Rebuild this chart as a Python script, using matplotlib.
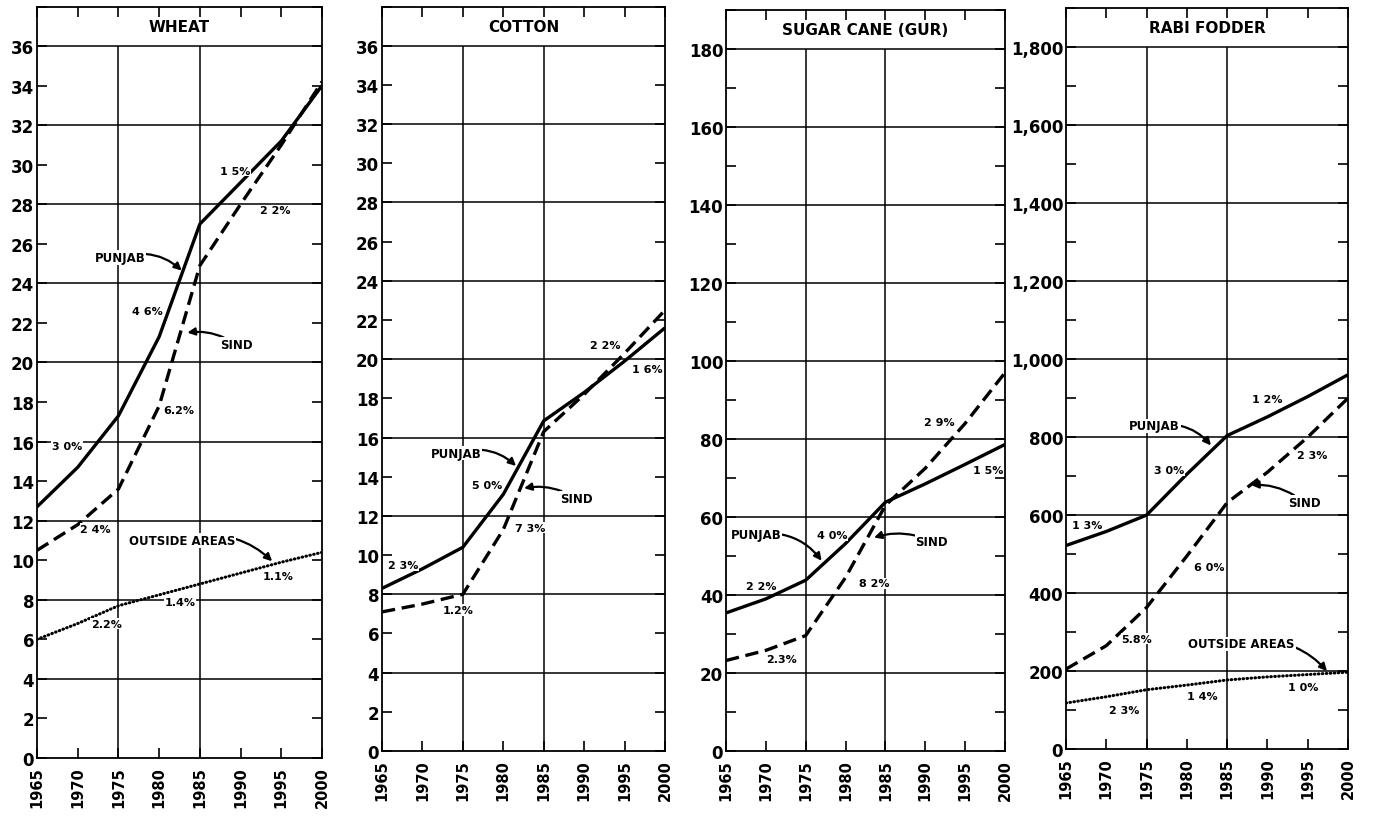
import matplotlib
matplotlib.use("Agg")
import matplotlib.pyplot as plt
from matplotlib.ticker import FuncFormatter, MultipleLocator
from matplotlib.transforms import blended_transform_factory

plt.rcParams['font.family'] = ['DejaVu Sans']
plt.rcParams['font.weight'] = 'bold'

years = [1965, 1970, 1975, 1980, 1985, 1990, 1995, 2000]

# projected production by region
wheat_punjab = [12.7, 14.7, 17.3, 21.3, 27.0, 29.1, 31.2, 34.0]
wheat_sind = [10.5, 11.8, 13.6, 17.8, 24.9, 28.0, 31.0, 34.2]
wheat_outside = [6.0, 6.8, 7.7, 8.25, 8.8, 9.35, 9.9, 10.4]

cotton_punjab = [8.3, 9.3, 10.4, 13.1, 16.85, 18.3, 19.9, 21.6]
cotton_sind = [7.1, 7.5, 8.0, 11.3, 16.3, 18.2, 20.3, 22.5]

sugar_punjab = [35.4, 39.0, 43.8, 53.2, 63.8, 68.5, 73.5, 78.6]
sugar_sind = [23.2, 25.8, 29.6, 44.5, 63.0, 72.5, 84.0, 97.0]

rabi_punjab = [522, 558, 600, 705, 804, 852, 904, 960]
rabi_sind = [205, 265, 363, 495, 632, 710, 800, 900]
rabi_outside = [118, 134, 152, 164, 177, 185, 191, 197]

W, H = 1374, 828
fig = plt.figure(figsize=(W / 100, H / 100), dpi=100)
fig.patch.set_facecolor('white')


def make_axes(left, bottom, right, top):
    return fig.add_axes([left / W, 1 - bottom / H, (right - left) / W, (bottom - top) / H])


def setup(ax, title, ymax, grid_step, label_step, tick_step, fmt=None):
    # frame runs one extra step above ymax to hold the title
    box = ymax + ymax / 18.0
    ax.set_xlim(1965, 2000)
    ax.set_ylim(0, box)
    for s in ax.spines.values():
        s.set_linewidth(1.3)
    ax.hlines(list(range(grid_step, ymax + 1, grid_step)), 1965, 2000, color='k', lw=1.1, zorder=1)
    ax.vlines([1975, 1985], 0, ymax, color='k', lw=1.1, zorder=1)
    ax.text(0.5, (ymax + box) / 2, title,
            transform=blended_transform_factory(ax.transAxes, ax.transData),
            ha='center', va='center', fontsize=11, fontweight='bold')

    ax.set_xticks(years)
    ax.set_xticklabels([str(y) for y in years], rotation=90, fontsize=10.5, fontweight='bold')
    ax.tick_params(axis='x', direction='in', length=7, width=1.2, top=True, pad=6)

    ax.set_yticks(list(range(0, ymax + 1, label_step)))
    if fmt:
        ax.yaxis.set_major_formatter(FuncFormatter(fmt))
    ax.yaxis.set_minor_locator(MultipleLocator(tick_step))
    ax.tick_params(axis='y', which='both', direction='in', length=7, width=1.2, right=True,
                   labelsize=12, pad=2)
    for lbl in ax.get_yticklabels():
        lbl.set_fontweight('bold')


def curves(ax, punjab, sind, outside=None):
    ax.plot(years, punjab, color='k', lw=2.4, solid_capstyle='butt', zorder=3)
    ax.plot(years, sind, color='k', lw=2.4, linestyle=(0, (4, 2)), zorder=3)
    if outside is not None:
        ax.plot(years, outside, color='k', lw=2.2, linestyle=(0, (0.2, 1.1)),
                dash_capstyle='round', zorder=3)


def notes(ax, labels, arrows):
    for text, x, y in labels:
        ax.text(x, y, text, ha='center', va='center', fontsize=8, fontweight='bold', zorder=4,
                bbox=dict(facecolor='white', edgecolor='none', pad=0.5))
    for text, tx, ty, px, py, rad in arrows:
        ax.annotate(text, xy=(px, py), xytext=(tx, ty), ha='center', va='center',
                    fontsize=8.5, fontweight='bold', zorder=4,
                    bbox=dict(facecolor='white', edgecolor='none', pad=0.5),
                    arrowprops=dict(arrowstyle='-|>', color='k', lw=1.6, mutation_scale=11,
                                    shrinkA=0, shrinkB=1, connectionstyle=f'arc3,rad={rad}'))


# WHEAT
ax1 = make_axes(37, 759, 322, 7.5)
setup(ax1, 'WHEAT', 36, 4, 2, 2)
curves(ax1, wheat_punjab, wheat_sind, wheat_outside)
notes(ax1,
      [('1 5%', 1989.3, 29.7), ('2 2%', 1994.2, 27.7), ('4 6%', 1978.5, 22.6),
       ('6.2%', 1982.4, 17.6), ('3 0%', 1968.7, 15.8), ('2 4%', 1972.2, 11.6),
       ('1.1%', 1994.6, 9.2), ('1.4%', 1982.6, 7.9), ('2.2%', 1973.5, 6.8)],
      [('PUNJAB', 1975.2, 25.3, 1982.9, 24.6, -0.3),
       ('SIND', 1989.5, 20.9, 1983.3, 21.5, 0.2),
       ('OUTSIDE AREAS', 1982.8, 11.0, 1994.0, 9.9, -0.3)])

# COTTON
ax2 = make_axes(382, 752, 665, 7.5)
setup(ax2, 'COTTON', 36, 4, 2, 2)
curves(ax2, cotton_punjab, cotton_sind)
notes(ax2,
      [('2 2%', 1992.6, 20.7), ('1 6%', 1997.8, 19.5), ('5 0%', 1978.0, 13.6),
       ('7 3%', 1983.3, 11.4), ('2 3%', 1967.6, 9.5), ('1.2%', 1974.4, 7.2)],
      [('PUNJAB', 1974.2, 15.2, 1981.7, 14.5, -0.3),
       ('SIND', 1989.0, 12.9, 1982.4, 13.4, 0.2)])

# SUGAR CANE
ax3 = make_axes(726, 752, 1005, 11)
setup(ax3, 'SUGAR CANE (GUR)', 180, 20, 20, 10)
curves(ax3, sugar_punjab, sugar_sind)
notes(ax3,
      [('2 9%', 1991.8, 84.4), ('1 5%', 1997.9, 72.0), ('4 0%', 1978.3, 55.3),
       ('8 2%', 1983.6, 43.0), ('2 2%', 1969.4, 42.2), ('2.3%', 1972.0, 23.5)],
      [('PUNJAB', 1968.8, 55.6, 1977.1, 48.5, -0.3),
       ('SIND', 1990.8, 53.8, 1983.4, 54.6, 0.2)])

# RABI FODDER
ax4 = make_axes(1066, 750, 1348, 9.3)
setup(ax4, 'RABI FODDER', 1800, 200, 200, 100, fmt=lambda v, p: f'{int(v):,}')
curves(ax4, rabi_punjab, rabi_sind, rabi_outside)
notes(ax4,
      [('1 2%', 1990.0, 897), ('3 0%', 1977.8, 715), ('2 3%', 1995.6, 753),
       ('1 3%', 1967.6, 574), ('6 0%', 1982.8, 467), ('5.8%', 1973.8, 283),
       ('1 0%', 1994.4, 160), ('1 4%', 1981.9, 136), ('2 3%', 1972.2, 101)],
      [('PUNJAB', 1976.0, 829, 1983.1, 776, -0.3),
       ('SIND', 1994.6, 632, 1987.8, 677, 0.2),
       ('OUTSIDE AREAS', 1986.8, 270, 1997.5, 197, -0.3)])

fig.savefig('out.png', dpi=100, facecolor='white')
